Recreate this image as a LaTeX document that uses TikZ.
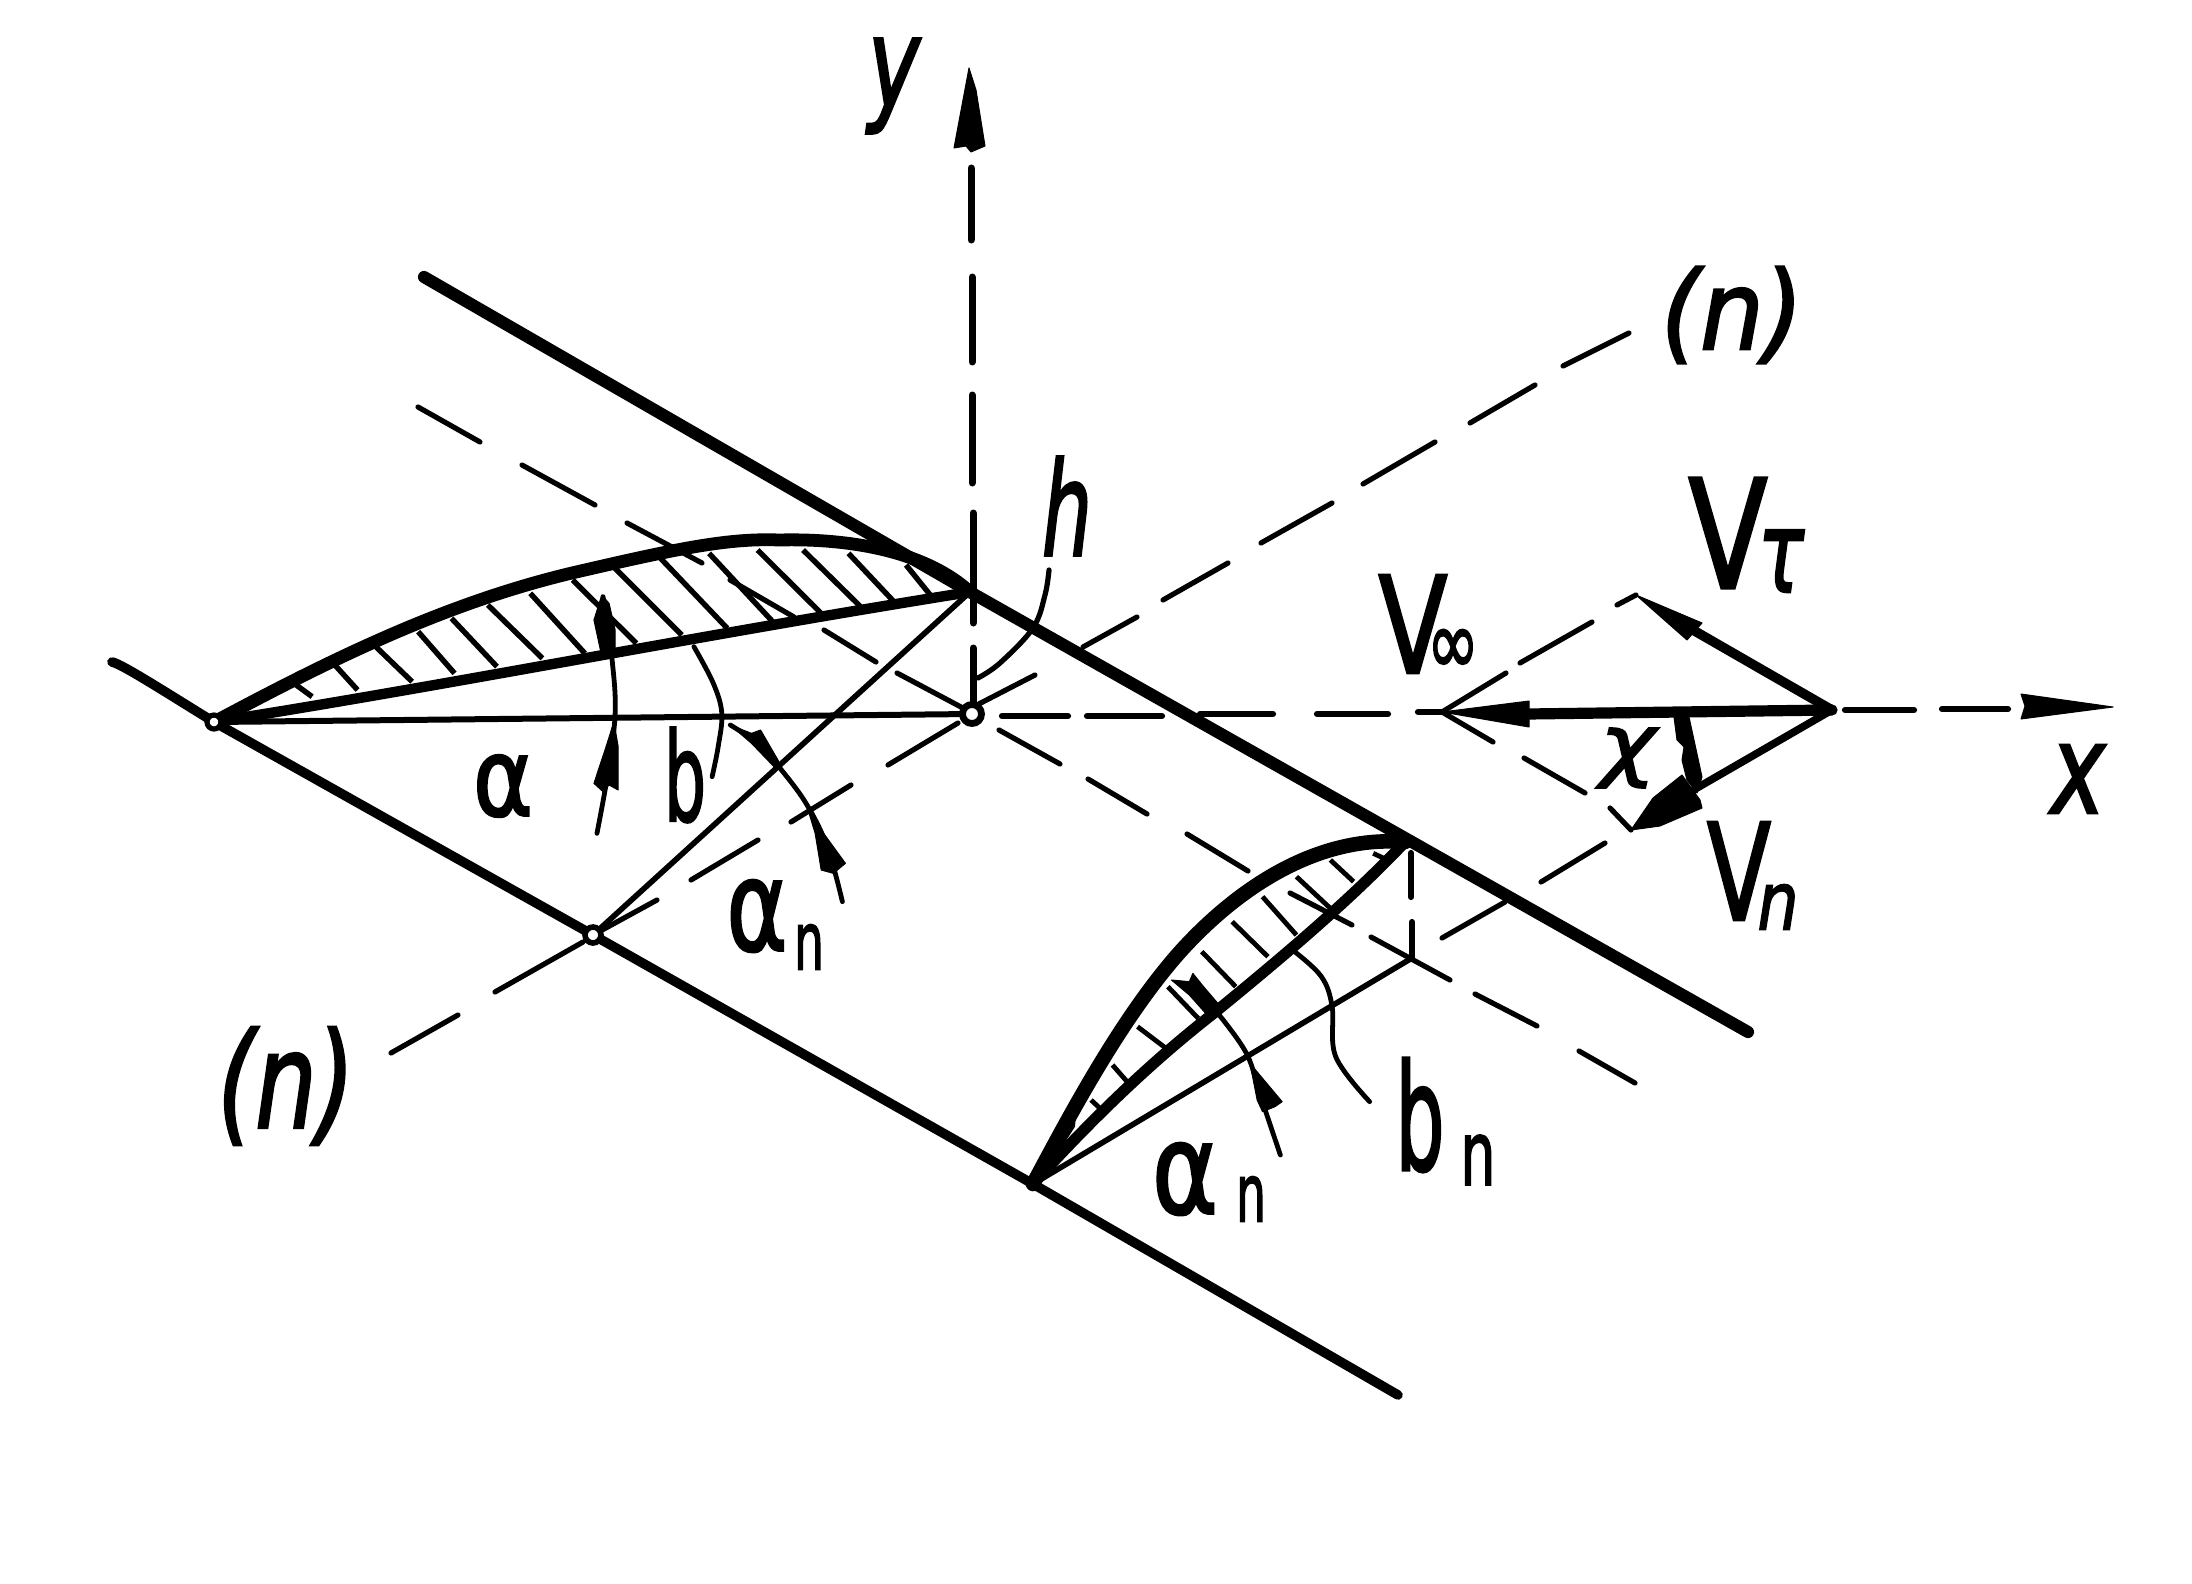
\documentclass[tikz,border=0pt]{standalone}
\usepackage{graphicx}
\usepackage{fontspec}
\setmainfont[FakeBold=2.2]{DejaVu Sans}
\tikzset{
  thickline/.style={line width=6.1pt,line cap=round,line join=round},
  midline/.style={line width=4.8pt,line cap=round,line join=round},
  thinline/.style={line width=2.8pt,line cap=round,line join=round},
  dashseg/.style={line width=2.6pt,line cap=round},
  hatchline/.style={line width=2.7pt,line cap=butt},
  leader/.style={line width=2.4pt,line cap=round,line join=round},
  axisdash/.style={line width=3.1pt,line cap=round},
  headfill/.style={fill=black,draw=black,line width=0.5pt,line join=round},
  zone/.style={shift={(100,480)},x=0.30303pt,y=-0.16667pt},
  ztwo/.style={shift={(1000,780)},x=0.17857pt,y=-0.16667pt},
  lab/.style={inner sep=0pt,outer sep=0pt}
}
% name, centre x, centre y, width, height (px), text
\newcommand{\lbl}[6]{\node[lab] (#1) at (#2,#3) {\resizebox*{\dimexpr #4pt/2\relax}{\dimexpr #5pt/2\relax}{#6}};}
\begin{document}
\begin{tikzpicture}[x=0.5pt,y=-0.5pt]
\useasboundingbox (0,0) rectangle (2192,1584);
\fill[white] (0,0) rectangle (2192,1584);
\coordinate (O) at (972,714);
\coordinate (LE) at (214,722);
\coordinate (TE) at (970,592);
\coordinate (NP) at (593,935);
\coordinate (LE2) at (1033,1184);
\coordinate (TE2) at (1405,842);
\coordinate (FT) at (1412,958);
\coordinate (AP) at (1832,710);
\coordinate (TP) at (1442,712);
\coordinate (VT) at (1636,595);
\coordinate (VN) at (1631,830);
% thick blade edges
\draw[thickline] (424,277) -- (TE) -- (1748,1032);
\draw[midline] (112,662) .. controls (122,664) and (170,695) .. (LE) -- (NP) -- (LE2) -- (1398,1395);
% mid dashed line
\draw[dashseg] (418,407)--(480,442) (522,465)--(595,505) (627,523)--(702,563) (730,580)--(794,617) (824,630)--(876,662) (897,673)--(961,707) (999,730)--(1060,764) (1088,779)--(1147,814) (1187,834)--(1248,871) (1290,893)--(1352,925) (1371,937)--(1450,980) (1475,994)--(1537,1026) (1579,1051)--(1635,1083);
% (n) dashed line
\draw[dashseg] (391,1053)--(458,1015) (495,992)--(583,942) (593,935)--(657,900) (691,880)--(758,840) (791,822)--(851,785) (888,765)--(958,723) (973,707)--(1035,675) (1083,647)--(1137,617) (1163,600)--(1228,563) (1261,543)--(1332,503) (1363,484)--(1435,442) (1470,423)--(1535,385) (1563,366)--(1629,333);
% second normal, dashed
\draw[dashseg] (1442,938)--(1505,902) (1541,882)--(1605,843);
% triangle dashed sides
\draw[dashseg] (TP)--(1506,673) (1520,663)--(1592,622) (1617,605)--(VT);
\draw[dashseg] (TP)--(1493,742) (1524,758)--(1585,793) (1610,808)--(VN);
% axes
\draw[axisdash] (1002,716)--(1068,716) (1087,716)--(1162,716) (1200,714)--(1273,714) (1317,714)--(1388,714);
\draw[axisdash] (1845,710)--(1914,710) (1942,709)--(2008,709);
\draw[axisdash] (1418,712)--(TP);
\fill[headfill] (2113,707) -- (2021,694) -- (2025,706) -- (2021,719) -- cycle;
\draw[line width=3.5pt,line cap=round] (971,168)--(971,240) (972,277)--(972,362) (972,395)--(972,483) (973,513)--(973,623) (973,648)--(973,705);
\fill[headfill] (969,68) -- (954,148) -- (966,146) -- (971,152) -- (985,146) -- (976,90) -- cycle;
% chords
\draw[thinline,line width=3pt] (LE) -- (O);
\draw[thinline] (TE) -- (NP);
\draw[thinline] (LE2) -- (FT);
\draw[axisdash] (1411,853)--(1411,897) (1412,922)--(FT);
% airfoil 1
\begin{scope}[zone]
\draw[hatchline] (320,610)--(350,650) (385,550)--(425,630) (455,500)--(515,605) (525,455)--(585,580) (580,415)--(655,560) (640,375)--(730,535) (710,340)--(800,520) (780,300)--(885,490) (850,265)--(960,465) (925,235)--(1035,445) (1005,220)--(1110,425) (1085,210)--(1190,400) (1160,210)--(1255,380) (1235,220)--(1310,365) (1330,255)--(1370,345);
\end{scope}
\draw[thickline,line width=6.4pt] (LE) .. controls (330,660) and (450,600) .. (585,570) .. controls (680,548) and (730,538) .. (779,540) .. controls (860,538) and (930,555) .. (TE);
\draw[line width=5.2pt,line cap=round] (LE) .. controls (450,685) and (700,635) .. (TE);
\begin{scope}[zone]
% alpha arc and heads
\draw[leader] plot[smooth,tension=0.6] coordinates {(830,350) (845,540) (850,700) (838,880) (820,1060)};
\fill[headfill] (828,345) -- (815,420) -- (828,530) -- (850,530) -- (850,450) -- (840,370) -- cycle;
\fill[headfill] (848,725) -- (855,800) -- (855,930) -- (840,915) -- (830,935) -- (815,910) -- (835,800) -- cycle;
% b leader
\draw[leader] plot[smooth,tension=0.6] coordinates {(980,500) (1012,610) (1026,700) (1020,800) (1010,890)};
% alpha_n arc
\draw[leader] plot[smooth,tension=0.6] coordinates {(1040,735) (1085,790) (1120,860) (1165,970) (1200,1100) (1225,1265)};
\fill[headfill] (1040,735) -- (1075,760) -- (1090,750) -- (1125,860) -- (1112,860) -- (1075,790) -- cycle;
\fill[headfill] (1170,1000) -- (1230,1150) -- (1210,1180) -- (1190,1170) -- (1180,1060) -- cycle;
\end{scope}
% airfoil 2
\begin{scope}[ztwo]
\draw[hatchline,line width=2.4pt] (255,960)--(280,985) (315,855)--(360,910) (385,740)--(465,805) (470,620)--(555,715) (565,515)--(660,620) (650,425)--(750,530) (735,350)--(830,465) (830,290)--(925,385) (925,240)--(990,305) (1045,220)--(1075,235);
\end{scope}
\draw[line width=7.3pt,line cap=round] (LE2) .. controls (1070,1115) and (1120,1020) .. (1179,953) .. controls (1240,885) and (1320,835) .. (TE2);
\draw[line width=5.6pt,line cap=round] (LE2) .. controls (1100,1110) and (1160,1055) .. (1214,1013) .. controls (1285,955) and (1350,900) .. (TE2);
\begin{scope}[ztwo]
\fill[black] (95,1195) -- (215,970) -- (210,1040) -- (150,1140) -- cycle;
\draw[leader] plot[smooth,tension=0.6] coordinates {(610,700) (690,820) (730,950) (785,1125)};
\fill[headfill] (480,600) -- (530,605) -- (540,580) -- (570,620) -- (610,670) -- (580,705) -- (530,645) -- cycle;
\fill[headfill] (700,850) -- (790,965) -- (770,980) -- (735,995) -- (720,960) -- cycle;
\draw[leader] plot[smooth,tension=0.6] coordinates {(825,515) (900,590) (930,680) (940,830) (1035,965)};
\end{scope}
% h leader
\draw[leader,line width=2.6pt] plot[smooth,tension=0.6] coordinates {(978,678) (1000,663) (1033,628) (1045,595) (1049,570)};
% velocity triangle
\draw[line width=5.6pt,line cap=round] (AP) -- (1528,714);
\fill[headfill] (1529,701) -- (TP) -- (1529,727) -- cycle;
\draw[line width=4.8pt,line cap=round] (AP) -- (1693,630);
\fill[headfill] (VT) -- (1702,623) -- (1687,640) -- cycle;
\draw[line width=3.8pt,line cap=round] (AP) -- (1690,792);
\fill[headfill] (VN) -- (1653,798) -- (1682,775) -- (1700,800) -- (1702,808) -- (1660,826) -- cycle;
\fill[headfill] (1674,717) -- (1689,717) -- (1702,777) -- (1697,793) -- (1687,780) -- (1682,760) -- (1684,747) -- (1677,740) -- cycle;
% joints
\draw[line width=3.4pt,fill=white] (O) circle[radius=9.5];
\draw[line width=2.6pt,fill=white] (LE) circle[radius=7];
\draw[line width=2.8pt,fill=white] (NP) circle[radius=8];
% labels
\lbl{ly}{894}{86}{52}{95}{\itshape y}
\lbl{ln1}{1732}{315}{142}{97}{\itshape (n)}
\lbl{ln2}{286}{1086}{137}{118}{\itshape (n)}
\lbl{lh}{1067}{506}{50}{99}{\itshape h}
\lbl{lv1}{1728}{533}{79}{110}{V}
\lbl{ltau}{1781}{561}{46}{62}{\itshape τ}
\lbl{lv2}{1413}{624}{69}{98}{V}
\lbl{linf}{1453}{652}{52}{45}{∞}
\lbl{lchi}{1628}{758}{56}{60}{\itshape χ}
\lbl{lx}{2078}{779}{54}{68}{\itshape x}
\lbl{lv3}{1739}{871}{64}{98}{V}
\lbl{lvn}{1778}{907}{41}{45}{\itshape n}
\lbl{la}{503}{786}{60}{62}{α}
\lbl{lb}{685}{775}{42}{95}{b}
\lbl{la2}{757}{916}{61}{72}{α}
\lbl{lan2}{809}{947}{30}{45}{n}
\lbl{lbn}{1420}{1115}{49}{114}{b}
\lbl{lbnn}{1478}{1160}{35}{50}{n}
\lbl{la3}{1185}{1179}{66}{72}{α}
\lbl{lan3}{1251}{1199}{30}{45}{n}
\end{tikzpicture}
\end{document}
